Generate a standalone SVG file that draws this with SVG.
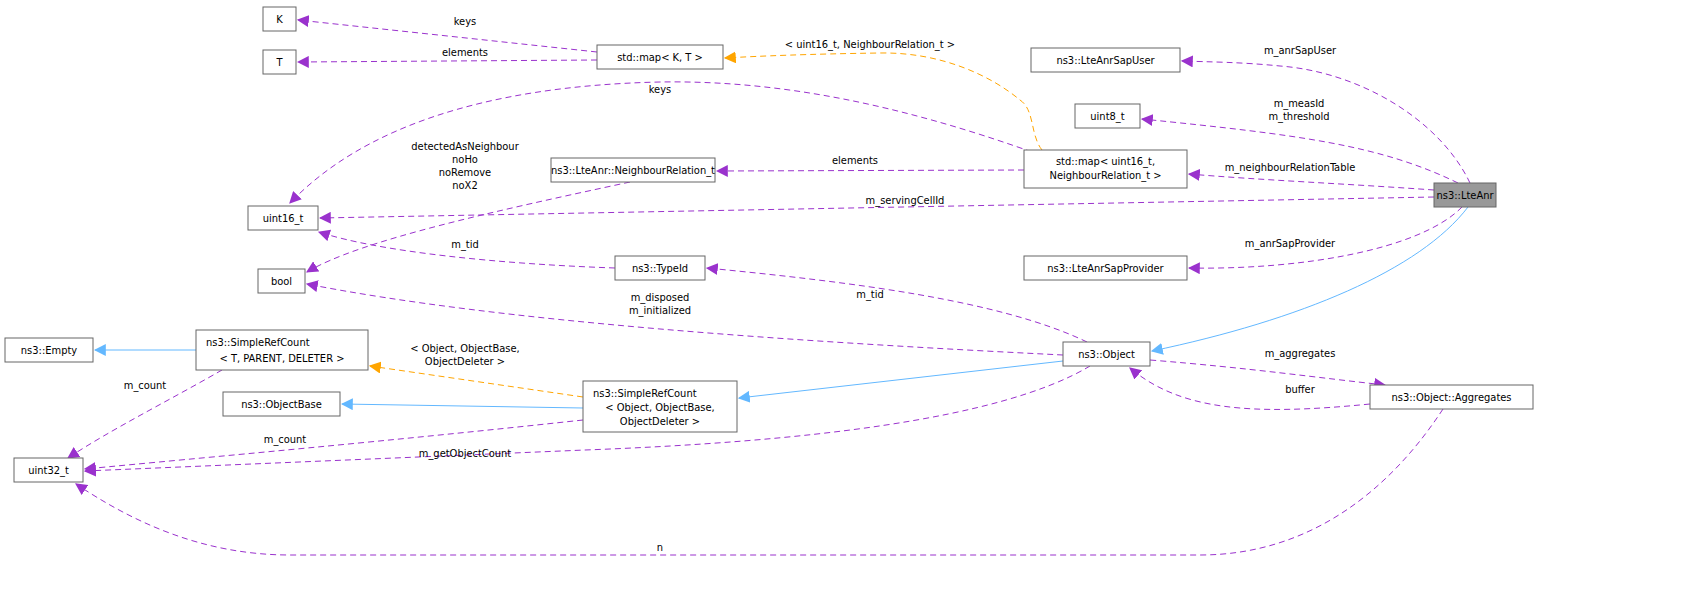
<svg xmlns="http://www.w3.org/2000/svg" width="1691" height="605" viewBox="0 0 1691 605">
<style>
text{font-family:"DejaVu Sans Condensed","Liberation Sans Narrow","Liberation Sans",sans-serif;font-size:11px;fill:#000}
.n rect{fill:#fff;stroke:#666;stroke-width:1}
.n text{text-anchor:middle}
.l{text-anchor:middle}
.p{fill:none;stroke:#9a32cd;stroke-dasharray:6,4}
.o{fill:none;stroke:#ffa500;stroke-dasharray:6,4}
.b{fill:none;stroke:#63b8ff}
</style>
<defs>
<marker id="mp" viewBox="0 0 10 10" refX="9" refY="5" markerWidth="12" markerHeight="12" markerUnits="userSpaceOnUse" orient="auto"><path d="M0,0L10,5L0,10z" fill="#9a32cd"/></marker>
<marker id="mo" viewBox="0 0 10 10" refX="9" refY="5" markerWidth="12" markerHeight="12" markerUnits="userSpaceOnUse" orient="auto"><path d="M0,0L10,5L0,10z" fill="#ffa500"/></marker>
<marker id="mb" viewBox="0 0 10 10" refX="9" refY="5" markerWidth="12" markerHeight="12" markerUnits="userSpaceOnUse" orient="auto"><path d="M0,0L10,5L0,10z" fill="#63b8ff"/></marker>
</defs>
<rect width="1691" height="605" fill="#fff"/>
<g id="edges">
<path class="p" marker-end="url(#mp)" d="M597,52 L298,20"/>
<text class="l" x="465" y="25">keys</text>
<path class="p" marker-end="url(#mp)" d="M597,60 L298,62"/>
<text class="l" x="465" y="56">elements</text>
<path class="o" marker-end="url(#mo)" d="M1042,150 C1030,135 1035,110 1020,100 C990,75 940,52 880,53 C810,54 760,56 725,58"/>
<text class="l" x="870" y="48">&lt; uint16_t, NeighbourRelation_t &gt;</text>
<path class="p" marker-end="url(#mp)" d="M1032,152 C900,105 780,80 660,82 C480,86 360,130 290,203"/>
<text class="l" x="660" y="93">keys</text>
<path class="p" marker-end="url(#mp)" d="M1024,170 L717,171"/>
<text class="l" x="855" y="164">elements</text>
<path class="p" marker-end="url(#mp)" d="M1470,183 C1440,120 1360,72 1280,66 C1240,62 1210,62 1182,61"/>
<text class="l" x="1300" y="54">m_anrSapUser</text>
<path class="p" marker-end="url(#mp)" d="M1458,183 C1380,145 1300,135 1142,119"/>
<text class="l" x="1299" y="107">m_measId</text>
<text class="l" x="1299" y="120">m_threshold</text>
<path class="p" marker-end="url(#mp)" d="M1434,190 C1350,184 1260,180 1189,174"/>
<text class="l" x="1290" y="171">m_neighbourRelationTable</text>
<path class="p" marker-end="url(#mp)" d="M1434,197 L320,218"/>
<text class="l" x="905" y="204">m_servingCellId</text>
<path class="p" marker-end="url(#mp)" d="M630,182 C500,210 360,240 307,272"/>
<text class="l" x="465" y="150">detectedAsNeighbour</text>
<text class="l" x="465" y="163">noHo</text>
<text class="l" x="465" y="176">noRemove</text>
<text class="l" x="465" y="189">noX2</text>
<path class="p" marker-end="url(#mp)" d="M615,268 C500,264 380,252 319,232"/>
<text class="l" x="465" y="248">m_tid</text>
<path class="p" marker-end="url(#mp)" d="M1087,342 C1000,300 850,282 707,268"/>
<text class="l" x="870" y="298">m_tid</text>
<path class="p" marker-end="url(#mp)" d="M1063,355 C800,342 500,322 307,284"/>
<text class="l" x="660" y="301">m_disposed</text>
<text class="l" x="660" y="314">m_initialized</text>
<path class="b" marker-end="url(#mb)" d="M1063,361 L739,398"/>
<path class="b" marker-end="url(#mb)" d="M1468,207 C1420,270 1300,320 1152,351"/>
<path class="p" marker-end="url(#mp)" d="M1462,207 C1420,250 1300,270 1189,268"/>
<text class="l" x="1290" y="247">m_anrSapProvider</text>
<path class="p" marker-end="url(#mp)" d="M1150,360 C1250,368 1320,378 1385,385"/>
<text class="l" x="1300" y="357">m_aggregates</text>
<path class="p" marker-end="url(#mp)" d="M1370,404 C1250,416 1180,410 1130,368"/>
<text class="l" x="1300" y="393">buffer</text>
<path class="p" marker-end="url(#mp)" d="M1443,409 C1390,490 1310,555 1200,555 L290,555 C200,555 130,520 76,484"/>
<text class="l" x="660" y="551">n</text>
<path class="p" marker-end="url(#mp)" d="M1090,366 C1000,420 800,442 585,450 L85,471"/>
<text class="l" x="465" y="457">m_getObjectCount</text>
<path class="p" marker-end="url(#mp)" d="M583,420 C400,440 200,458 85,469"/>
<text class="l" x="285" y="443">m_count</text>
<path class="p" marker-end="url(#mp)" d="M222,370 C170,400 110,430 68,458"/>
<text class="l" x="145" y="389">m_count</text>
<path class="o" marker-end="url(#mo)" d="M583,397 L370,366"/>
<text class="l" x="465" y="352">&lt; Object, ObjectBase,</text>
<text class="l" x="465" y="365">ObjectDeleter &gt;</text>
<path class="b" marker-end="url(#mb)" d="M196,350 L95,350"/>
<path class="b" marker-end="url(#mb)" d="M583,408 L342,404"/>
</g>
<g id="K" class="n"><rect x="263" y="7" width="33" height="24"/><text x="279.5" y="23">K</text></g>
<g id="T" class="n"><rect x="263" y="50" width="33" height="24"/><text x="279.5" y="66">T</text></g>
<g id="mapKT" class="n"><rect x="597" y="45" width="126" height="24"/><text x="660" y="61">std::map&lt; K, T &gt;</text></g>
<g id="sapUser" class="n"><rect x="1031" y="48" width="149" height="24"/><text x="1105.5" y="64">ns3::LteAnrSapUser</text></g>
<g id="uint8" class="n"><rect x="1075" y="104" width="65" height="24"/><text x="1107.5" y="120">uint8_t</text></g>
<g id="mapNR" class="n"><rect x="1024" y="150" width="163" height="38"/><text x="1105.5" y="165">std::map&lt; uint16_t,</text><text x="1105.5" y="179">NeighbourRelation_t &gt;</text></g>
<g id="lteAnr" class="n"><rect x="1434" y="183" width="62" height="24" style="fill:#999"/><text x="1465" y="199">ns3::LteAnr</text></g>
<g id="nr" class="n"><rect x="551" y="158" width="164" height="24"/><text x="633" y="174">ns3::LteAnr::NeighbourRelation_t</text></g>
<g id="uint16" class="n"><rect x="248" y="206" width="70" height="24"/><text x="283" y="222">uint16_t</text></g>
<g id="bool" class="n"><rect x="258" y="269" width="47" height="24"/><text x="281.5" y="285">bool</text></g>
<g id="typeId" class="n"><rect x="615" y="256" width="90" height="24"/><text x="660" y="272">ns3::TypeId</text></g>
<g id="sapProv" class="n"><rect x="1024" y="256" width="163" height="24"/><text x="1105.5" y="272">ns3::LteAnrSapProvider</text></g>
<g id="object" class="n"><rect x="1063" y="342" width="87" height="24"/><text x="1106.5" y="358">ns3::Object</text></g>
<g id="empty" class="n"><rect x="5" y="338" width="88" height="24"/><text x="49" y="354">ns3::Empty</text></g>
<g id="srcT" class="n"><rect x="196" y="330" width="172" height="40"/><text x="206" y="346" style="text-anchor:start">ns3::SimpleRefCount</text><text x="282" y="362">&lt; T, PARENT, DELETER &gt;</text></g>
<g id="objBase" class="n"><rect x="223" y="392" width="117" height="24"/><text x="281.5" y="408">ns3::ObjectBase</text></g>
<g id="srcObj" class="n"><rect x="583" y="381" width="154" height="51"/><text x="593" y="397" style="text-anchor:start">ns3::SimpleRefCount</text><text x="660" y="411">&lt; Object, ObjectBase,</text><text x="660" y="425">ObjectDeleter &gt;</text></g>
<g id="uint32" class="n"><rect x="14" y="458" width="69" height="24"/><text x="48.5" y="474">uint32_t</text></g>
<g id="aggr" class="n"><rect x="1370" y="385" width="163" height="24"/><text x="1451.5" y="401">ns3::Object::Aggregates</text></g>
</svg>
